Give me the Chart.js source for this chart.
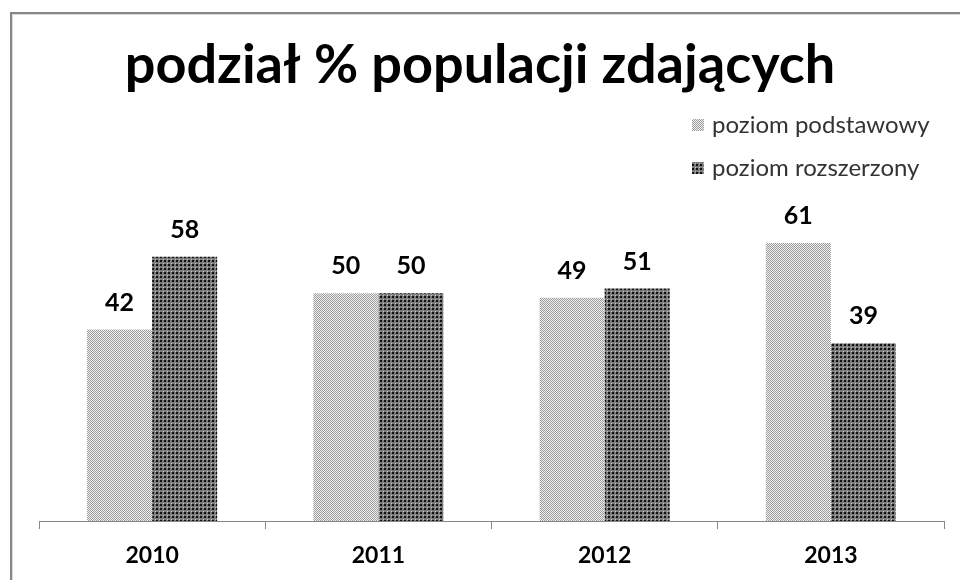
<!DOCTYPE html>
<html>
<head>
<meta charset="utf-8">
<script src="https://cdn.jsdelivr.net/npm/chart.js@4"></script>
<style>
  html, body { margin: 0; padding: 0; background: #fff; }
  #wrap { width: 960px; height: 580px; }
</style>
</head>
<body>
<div id="wrap"><canvas id="chart" width="960" height="580"></canvas></div>
<script>
const years = ['2010', '2011', '2012', '2013'];
const seriesNames = ['poziom podstawowy', 'poziom rozszerzony'];
const basicShare = [42, 50, 49, 61];
const extendedShare = [58, 50, 51, 39];
const titleText = 'podział % populacji zdających';

const FONT = 'Lato, "Open Sans", sans-serif';

// small dotted tiles, like the old office pattern fills
function makePattern(pick) {
    const c = document.createElement('canvas');
    c.width = 4;
    c.height = 4;
    const g = c.getContext('2d');
    for (let y = 0; y < 4; y++) {
        for (let x = 0; x < 4; x++) {
            g.fillStyle = pick(x, y);
            g.fillRect(x, y, 1, 1);
        }
    }
    return g.createPattern(c, 'repeat');
}

const lightFill = makePattern((x, y) => (x + y) % 2 ? '#f0f0f0' : '#9c9c9c');
const darkFill = makePattern((x, y) => {
    if (x < 2 && y < 2) return '#111';
    if (x === 3 && y === 3) return '#c8c8c8';
    return '#7c7c7c';
});
const fills = [lightFill, darkFill];

const framePlugin = {
    id: 'frame',
    beforeDraw(chart) {
        const ctx = chart.ctx;
        ctx.save();
        ctx.strokeStyle = '#868686';
        ctx.lineWidth = 2;
        ctx.strokeRect(11, 13, 980, 600);
        ctx.strokeStyle = '#dcdcdc';
        ctx.lineWidth = 1;
        ctx.strokeRect(12.5, 14.5, 980, 600);
        ctx.restore();
    },
};

const valueLabels = {
    id: 'valueLabels',
    afterDatasetsDraw(chart) {
        const ctx = chart.ctx;
        ctx.save();
        ctx.font = 'bold 25px ' + FONT;
        ctx.fillStyle = '#000';
        ctx.textAlign = 'center';
        ctx.textBaseline = 'middle';
        chart.data.datasets.forEach((ds, i) => {
            chart.getDatasetMeta(i).data.forEach((bar, j) => {
                ctx.fillText(String(ds.data[j]), bar.x, bar.y - 27);
            });
        });
        ctx.restore();
    },
};

// title and legend sit above the plot, legend stacked at top right
const headerPlugin = {
    id: 'header',
    afterDraw(chart) {
        const ctx = chart.ctx;
        ctx.save();
        ctx.textBaseline = 'middle';
        ctx.textAlign = 'center';
        ctx.fillStyle = '#000';
        ctx.font = 'bold 54px ' + FONT;
        ctx.fillText(titleText, 480, 66);

        ctx.textAlign = 'left';
        ctx.font = '24px ' + FONT;
        seriesNames.forEach((name, i) => {
            const y = 125 + i * 43;
            ctx.fillStyle = fills[i];
            ctx.fillRect(692, y - 6, 12, 12);
            ctx.fillStyle = '#333';
            ctx.fillText(name, 712, y);
        });
        ctx.restore();
    },
};

new Chart(document.getElementById('chart'), {
    type: 'bar',
    data: {
        labels: years,
        datasets: [
            { label: seriesNames[0], data: basicShare, backgroundColor: lightFill },
            { label: seriesNames[1], data: extendedShare, backgroundColor: darkFill },
        ],
    },
    options: {
        responsive: false,
        animation: false,
        categoryPercentage: 0.575,
        barPercentage: 1,
        layout: { padding: { left: 39, right: 16, bottom: 12, top: 202 } },
        plugins: {
            legend: { display: false },
            tooltip: { enabled: false },
            title: { display: false },
        },
        scales: {
            x: {
                afterFit(scale) { scale.height = 47; },
                grid: {
                    offset: true,
                    drawOnChartArea: false,
                    tickLength: 8,
                    color: '#868686',
                },
                border: { color: '#868686', width: 1 },
                ticks: {
                    color: '#000',
                    padding: 13,
                    font: { family: FONT, size: 23, weight: 'bold' },
                },
            },
            y: { display: false, min: 0, max: 70 },
        },
    },
    plugins: [framePlugin, valueLabels, headerPlugin],
});
</script>
</body>
</html>
